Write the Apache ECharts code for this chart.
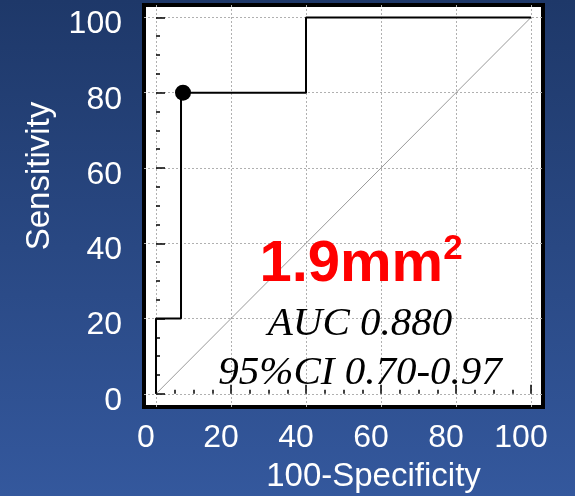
<!DOCTYPE html>
<html><head><meta charset="utf-8">
<script src="https://cdn.jsdelivr.net/npm/echarts@6/dist/echarts.min.js"></script>
<style>html,body{margin:0;padding:0;width:575px;height:496px;overflow:hidden}#c{width:575px;height:496px}</style>
</head><body><div id="c"></div>
<script>
// ROC curve (100-Specificity, Sensitivity)
const rocX = [0, 0, 6.67, 6.67, 40, 40, 100];
const rocY = [0, 20, 20, 80, 80, 100, 100];
// optimal cut-off point
const cutX = [7.2];
const cutY = [80];
// reference diagonal
const refX = [0, 100];
const refY = [0, 100];
// ticks
const majorTicks = [0, 20, 40, 60, 80, 100];
const minorTicks = [0, 5, 10, 15, 20, 25, 30, 35, 40, 45, 50, 55, 60, 65, 70, 75, 80, 85, 90, 95, 100];
const xName = '100-Specificity';
const yName = 'Sensitivity';
const titleMain = '1.9mm';
const titleSup = '2';
const aucText = 'AUC 0.880';
const ciText = '95%CI 0.70-0.97';

const SANS = "'Liberation Sans', Arial, sans-serif";
const SERIF = "'Liberation Serif', 'Times New Roman', serif";
const zip = (a, b) => a.map((v, i) => [v, b[i]]);

const chart = echarts.init(document.getElementById('c'), null, {renderer: 'canvas'});
const tickStyle = {color: '#000', width: 1.5};
const gridLine = {color: '#b0b0b0', width: 1, type: [2, 2]};

function minorAxis(min, max, pos) {
  return {
    type: 'value', min: min, max: max, position: pos,
    axisLine: {show: false},
    axisTick: {show: true, inside: true, length: 4, customValues: minorTicks, lineStyle: tickStyle},
    axisLabel: {show: false},
    splitLine: {show: false}
  };
}

const option = {
  backgroundColor: {
    type: 'linear', x: 0, y: 0, x2: 0, y2: 1,
    colorStops: [{offset: 0, color: '#1e3869'}, {offset: 1, color: '#34589d'}]
  },
  animation: false,
  grid: {
    left: 144, top: 5, right: 32, bottom: 89,
    show: true, backgroundColor: '#fff', borderColor: '#000', borderWidth: 4,
    outerBoundsMode: 'none', containLabel: false
  },
  xAxis: [
    minorAxis(-3.2, 103.2, 'bottom'),
    {
      type: 'value', min: -3.2, max: 103.2, position: 'bottom',
      axisLine: {show: false},
      axisTick: {show: true, inside: true, length: 9, customValues: majorTicks, lineStyle: tickStyle},
      axisLabel: {customValues: majorTicks, color: '#fff', fontSize: 32, fontFamily: SANS, margin: 15, padding: [0, 20, 0, 0]},
      splitLine: {show: true, lineStyle: gridLine},
      name: xName, nameLocation: 'middle', nameGap: 53, nameMoveOverlap: false,
      nameTextStyle: {color: '#fff', fontSize: 33, fontFamily: SANS, padding: [0, 0, 0, 60]}
    }
  ],
  yAxis: [
    minorAxis(-3.5, 103.3, 'left'),
    {
      type: 'value', min: -3.5, max: 103.3, position: 'left',
      axisLine: {show: false},
      axisTick: {show: true, inside: true, length: 9, customValues: majorTicks, lineStyle: tickStyle},
      axisLabel: {customValues: majorTicks, color: '#fff', fontSize: 32, fontFamily: SANS, margin: 22, verticalAlign: 'top', lineHeight: 14},
      splitLine: {show: true, lineStyle: gridLine},
      name: yName, nameLocation: 'middle', nameGap: 88, nameMoveOverlap: false,
      nameTextStyle: {color: '#fff', fontSize: 33, fontFamily: SANS, padding: [0, 0, 0, 60]}
    }
  ],
  series: [
    {
      type: 'line', xAxisIndex: 0, yAxisIndex: 0, data: zip(refX, refY),
      symbol: 'none', lineStyle: {color: '#9a9a9a', width: 1}, silent: true, z: 3
    },
    {
      type: 'line', xAxisIndex: 0, yAxisIndex: 0, data: zip(rocX, rocY),
      symbol: 'none', lineStyle: {color: '#000', width: 2}, silent: true, z: 4
    },
    {
      type: 'scatter', xAxisIndex: 0, yAxisIndex: 0, data: zip(cutX, cutY),
      symbol: 'circle', symbolSize: 16, itemStyle: {color: '#000', opacity: 1}, silent: true, z: 5
    }
  ],
  graphic: [
    {
      type: 'text', x: 361, y: 263, z: 10,
      style: {
        text: '{a|' + titleMain + '}{s|' + titleSup + '}',
        align: 'center', verticalAlign: 'middle',
        rich: {
          a: {fontSize: 58, fontWeight: 'bold', fontFamily: SANS, fill: '#ff0000', color: '#ff0000', lineHeight: 62, verticalAlign: 'bottom'},
          s: {fontSize: 35, fontWeight: 'bold', fontFamily: SANS, fill: '#ff0000', color: '#ff0000', lineHeight: 34, verticalAlign: 'top'}
        }
      }
    },
    {
      type: 'text', x: 360, y: 324, z: 10,
      style: {text: aucText, fontSize: 41, fontStyle: 'italic', fontFamily: SERIF, fill: '#000', align: 'center', verticalAlign: 'middle'}
    },
    {
      type: 'text', x: 360, y: 373, z: 10,
      style: {text: ciText, fontSize: 41, fontStyle: 'italic', fontFamily: SERIF, fill: '#000', align: 'center', verticalAlign: 'middle'}
    }
  ]
};
chart.setOption(option);
</script>
</body></html>
